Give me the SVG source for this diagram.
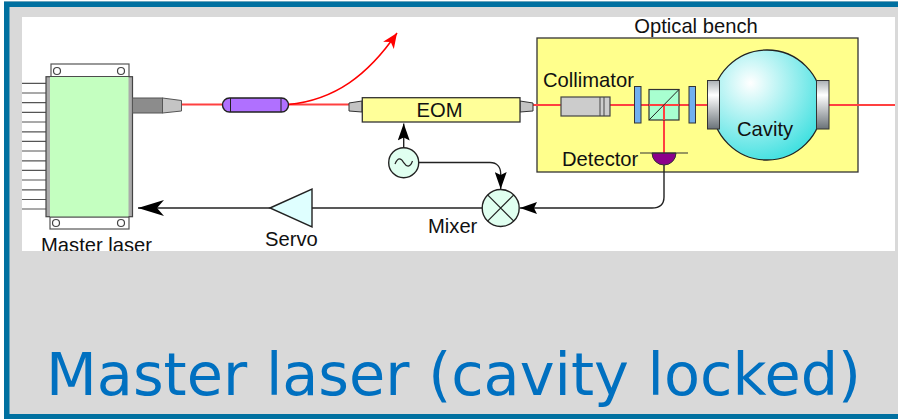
<svg xmlns="http://www.w3.org/2000/svg" width="898" height="419" viewBox="0 0 898 419">
<style>
.t{font-family:"Liberation Sans",Arial,sans-serif;font-size:20.2px;fill:#111}
.pin{stroke:#555;stroke-width:1.2}
.wire{fill:none;stroke:#222;stroke-width:1.4}
.beam{fill:none;stroke:#ff4040;stroke-width:2}
.hole{fill:#fff;stroke:#444;stroke-width:1.2}
</style>
<defs>
<marker id="ah" markerUnits="userSpaceOnUse" markerWidth="26" markerHeight="18" refX="26" refY="9" orient="auto"><path d="M0 1L26 9L0 17L7 9Z" fill="#000"/></marker>
<marker id="ahs" markerUnits="userSpaceOnUse" markerWidth="17" markerHeight="12" refX="17" refY="6" orient="auto"><path d="M0 0L17 6L0 12L3 6Z" fill="#000"/></marker>
<marker id="ahr" markerUnits="userSpaceOnUse" markerWidth="16" markerHeight="16" refX="15" refY="8" orient="auto"><path d="M0 1.500L15 8L0 14.500L4 8Z" fill="#f00"/></marker>
<radialGradient id="cav" cx="0.35" cy="0.3" r="0.75"><stop offset="0" stop-color="#fff"/><stop offset="1" stop-color="#3fe0e0"/></radialGradient>
<linearGradient id="mir" x1="0" y1="0" x2="0" y2="1"><stop offset="0" stop-color="#aab0b4"/><stop offset="0.3" stop-color="#fff"/><stop offset="1" stop-color="#6a7278"/></linearGradient>
<clipPath id="panel"><rect x="22" y="17" width="873" height="234"/></clipPath>
</defs>
<rect width="898" height="419" fill="#fff"/>
<rect x="4" y="1" width="894" height="418" fill="#d9d9d9"/>
<path d="M4 1.500H898V7H9.500V414H898V419H4Z" fill="#0070a0"/>
<rect x="22" y="17" width="873" height="234" fill="#fff"/>
<g id="bench"><rect x="537" y="38" width="321" height="134" fill="#ffff8c" stroke="#333" stroke-width="1.300"/><text class="t" x="696" y="32.500" text-anchor="middle">Optical bench</text></g>
<g id="connectors">
<path class="beam" d="M181 104.600H222M288 104.600H349M533 105H895M664 105V153"/>
<path d="M288 104.600C335 100 368 75 397 33" fill="none" stroke="#f00" stroke-width="1.500" marker-end="url(#ahr)"/>
<path class="wire" d="M270 208H138" marker-end="url(#ah)"/>
<path class="wire" d="M312 208H482"/>
<path class="wire" d="M403.700 148V123.500" marker-end="url(#ahs)"/>
<path class="wire" d="M419 162.500H490C497 162.500 500.700 167 500.700 174V189" marker-end="url(#ahs)"/>
<path class="wire" d="M664 165V197C664 204 660 208 652 208H520" marker-end="url(#ahs)"/>
</g>
<g id="master-laser">
<g class="pin"><path d="M22 83.300H46M22 93H46M22 102.700H46M22 112.400H46M22 122H46M22 131.800H46M22 141.400H46M22 151H46M22 160.800H46M22 170.400H46M22 180H46M22 189.800H46M22 209H46M22 199.500H46"/></g>
<rect x="51" y="64" width="78" height="13" fill="#fff" stroke="#555" stroke-width="1.200"/>
<rect x="50" y="217" width="79" height="12" fill="#fff" stroke="#555" stroke-width="1.200"/>
<circle class="hole" cx="57" cy="71" r="3.500"/><circle class="hole" cx="121" cy="71" r="3.500"/><circle class="hole" cx="56" cy="223" r="3.500"/><circle class="hole" cx="121" cy="223" r="3.500"/>
<rect x="46" y="76.700" width="86.500" height="140" fill="#aaa" stroke="#444" stroke-width="1.200"/>
<rect x="50" y="77" width="78.500" height="139.500" fill="#c4ffc0"/>
<rect x="132.500" y="98" width="30" height="15" fill="#8c8c8c" stroke="#555"/>
<path d="M162.500 98L181.500 100.500V111L162.500 113Z" fill="#c4c4c4" stroke="#555"/>
<text class="t" x="41" y="252" clip-path="url(#panel)">Master laser</text>
</g>
<g id="isolator"><rect x="222.500" y="98" width="66" height="14" rx="7" fill="#b070ff" stroke="#222" stroke-width="1.400"/><path d="M230.500 98V112M281 98V112" stroke="#222"/></g>
<g id="servo"><path d="M270 208L312 189V227Z" fill="#dfffff" stroke="#222" stroke-width="1.400"/><text class="t" x="265" y="246">Servo</text></g>
<g id="mixer"><circle cx="500.700" cy="208" r="18.500" fill="#e0fff0" stroke="#222" stroke-width="1.400"/><path d="M487.600 194.900L513.800 221.100M513.800 194.900L487.600 221.100" stroke="#222" stroke-width="1.200"/><text class="t" x="428" y="233">Mixer</text></g>
<g id="oscillator"><circle cx="403.700" cy="162.700" r="15" fill="#e0fff0" stroke="#222" stroke-width="1.400"/><path d="M395 164C398 157 401 158 403.700 162.700C406.500 167 410 168 412.500 161" fill="none" stroke="#222" stroke-width="1.200"/></g>
<g id="eom"><path d="M349 103L362 101V112L349 111Z" fill="#c4c4c4" stroke="#333"/><path d="M533 103L520 101V112L533 111Z" fill="#c4c4c4" stroke="#333"/><rect x="362.300" y="97.700" width="157.700" height="24.300" fill="#ffff99" stroke="#333" stroke-width="1.300"/><text class="t" x="439.500" y="116.500" text-anchor="middle">EOM</text></g>
<g id="collimator"><rect x="561" y="97" width="49" height="19" fill="#ccc" stroke="#444" stroke-width="1.200"/><path d="M600 97V116M604 97V116" stroke="#444"/><text class="t" x="543" y="87">Collimator</text></g>
<g id="plate-1"><rect x="634.500" y="86.500" width="6.500" height="36.500" fill="#70b0f0" stroke="#333"/></g>
<g id="beam-splitter"><rect x="649" y="89.500" width="30" height="30.500" fill="#a8ffd0" stroke="#333" stroke-width="1.200"/><path class="beam" d="M649 105H679M664 105V120"/><path d="M649 120L679 89.500" stroke="#222"/></g>
<g id="plate-2"><rect x="689" y="86.500" width="6.500" height="36.500" fill="#70b0f0" stroke="#333"/></g>
<g id="cavity"><circle cx="767" cy="105" r="55" fill="url(#cav)" stroke="#222" stroke-width="1.300"/><rect x="707.500" y="80.500" width="12" height="48.500" fill="url(#mir)" stroke="#333"/><rect x="816.500" y="80.500" width="12.500" height="48.500" fill="url(#mir)" stroke="#333"/><text class="t" x="737" y="136">Cavity</text></g>
<g id="detector"><path d="M652 153A12 12 0 0 0 676 153Z" fill="#8b008b" stroke="#333"/><path d="M640 153H688" stroke="#333" stroke-width="1.200"/><text class="t" x="562" y="166">Detector</text></g>
<text x="46" y="395" font-family="'DejaVu Sans',Verdana,sans-serif" font-size="58" fill="#0070c0" textLength="815" lengthAdjust="spacingAndGlyphs">Master laser (cavity locked)</text>
</svg>
